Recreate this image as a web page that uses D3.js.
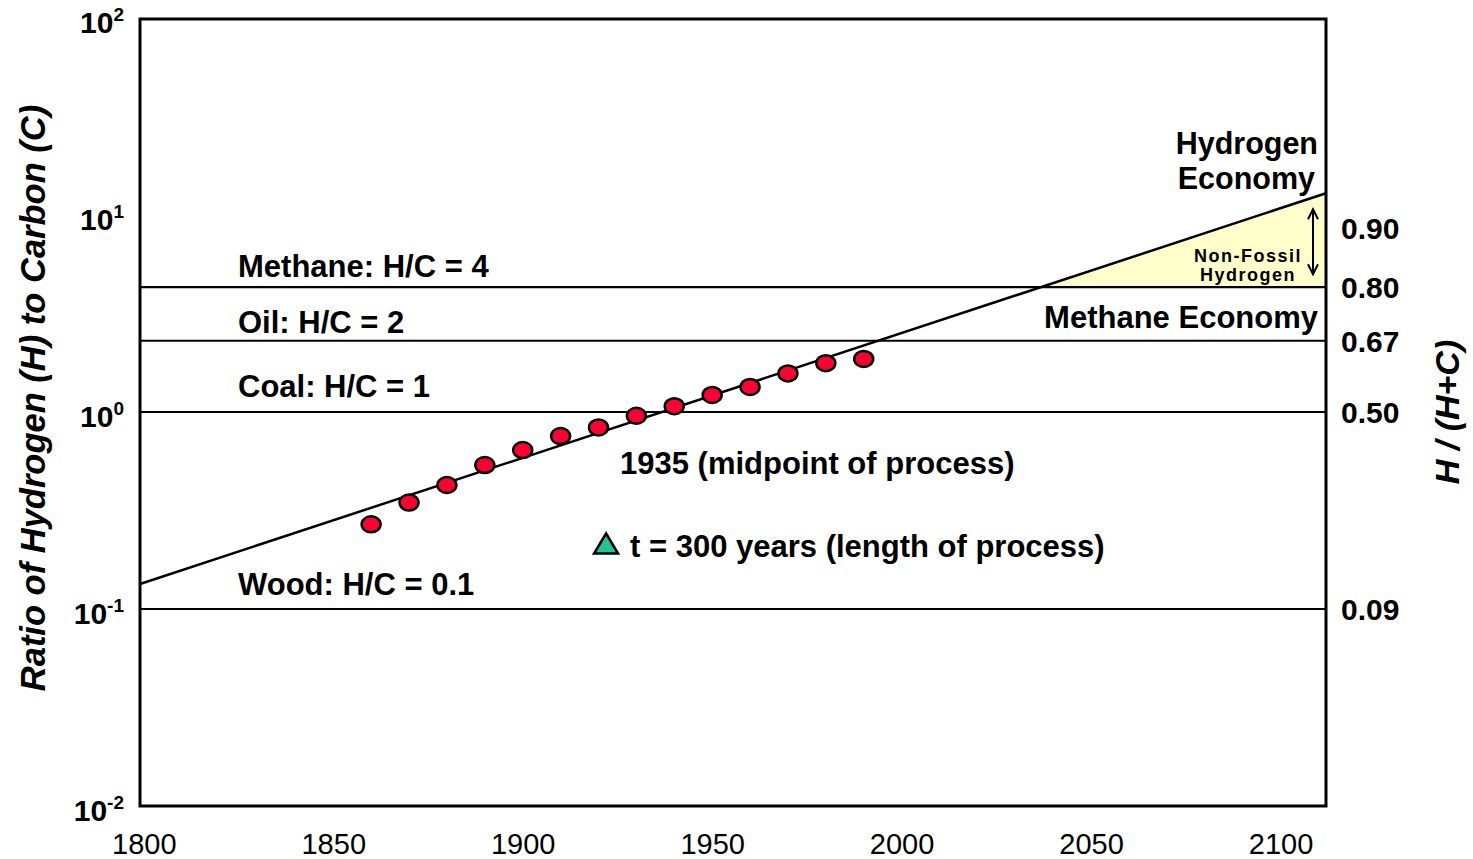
<!DOCTYPE html>
<html>
<head>
<meta charset="utf-8">
<script src="https://cdn.jsdelivr.net/npm/d3@7/dist/d3.min.js"></script>
<style>
body { margin: 0; background: #fff; }
text { font-family: "Liberation Sans", Arial, sans-serif; }
</style>
</head>
<body>
<div id="chart"></div>
<script>
// Observed ratio of hydrogen to carbon, one point per decade
const years = [1860, 1870, 1880, 1890, 1900, 1910, 1920, 1930, 1940, 1950, 1960, 1970, 1980, 1990];
const hcRatio = [0.269, 0.347, 0.426, 0.538, 0.641, 0.755, 0.835, 0.957, 1.07, 1.22, 1.34, 1.57, 1.77, 1.86];

// Trend line (straight on the log axis), read at both frame edges
const trendYears = [1799, 2112];
const trendRatio = [0.134, 12.9];

// Fuel reference lines
const fuelNames = ["Wood: H/C = 0.1", "Coal: H/C = 1", "Oil: H/C = 2", "Methane: H/C = 4"];
const fuelRatio = [0.1, 1, 2.3, 4.3];

// Axis ticks
const xTicks = [1800, 1850, 1900, 1950, 2000, 2050, 2100];
const yTicks = [0.01, 0.1, 1, 10, 100];
const yTickExp = ["-2", "-1", "0", "1", "2"];
const rightTickRatio = [8.6, 4.3, 2.3, 1, 0.1];
const rightTickLabels = ["0.90", "0.80", "0.67", "0.50", "0.09"];

// Triangle marker next to the process length note
const markerYear = 1922, markerRatio = 0.215;

const width = 1473, height = 859;
let svg = d3.select("#chart")
    .append("svg")
    .attr("width", width)
    .attr("height", height);

let x = d3.scaleLinear().domain([1799, 2112]).range([140, 1326]);
let y = d3.scaleLog().domain([0.01, 100]).range([806, 18]);

const plotLeft = x.range()[0], plotRight = x.range()[1];
const plotTop = y.range()[1], plotBottom = y.range()[0];

// Yellow wedge where the trend runs above methane
let lt0 = Math.log10(trendRatio[0]), lt1 = Math.log10(trendRatio[1]);
let methane = fuelRatio[3];
let crossYear = trendYears[0] + (trendYears[1] - trendYears[0]) *
    (Math.log10(methane) - lt0) / (lt1 - lt0);
svg.append("path")
    .attr("d", d3.line()([
        [x(crossYear), y(methane)],
        [x(trendYears[1]), y(trendRatio[1])],
        [x(trendYears[1]), y(methane)]
    ]))
    .attr("fill", "#ffffcc");

// Fuel reference lines and their labels
svg.append("g").selectAll("line")
    .data(fuelRatio)
    .enter().append("line")
    .attr("x1", plotLeft).attr("x2", plotRight)
    .attr("y1", d => y(d)).attr("y2", d => y(d))
    .attr("stroke", "#000").attr("stroke-width", 2.2);

const labelLift = [14, 15, 8, 10];
svg.append("g").selectAll("text")
    .data(fuelNames)
    .enter().append("text")
    .attr("x", plotLeft + 98)
    .attr("y", (d, i) => y(fuelRatio[i]) - labelLift[i])
    .style("font-size", "31px")
    .style("font-weight", "bold")
    .text(d => d);

// Trend line
svg.append("path")
    .datum(trendYears.map((t, i) => [t, trendRatio[i]]))
    .attr("d", d3.line().x(d => x(d[0])).y(d => y(d[1])))
    .attr("fill", "none")
    .attr("stroke", "#000")
    .attr("stroke-width", 2.5);

// Frame
svg.append("rect")
    .attr("x", plotLeft).attr("y", plotTop + 1)
    .attr("width", plotRight - plotLeft).attr("height", plotBottom - plotTop - 1)
    .attr("fill", "none")
    .attr("stroke", "#000")
    .attr("stroke-width", 3);

// Observed points
svg.append("g").selectAll("ellipse")
    .data(years)
    .enter().append("ellipse")
    .attr("cx", d => x(d))
    .attr("cy", (d, i) => y(hcRatio[i]))
    .attr("rx", 9.5).attr("ry", 8)
    .attr("fill", "#ff0033")
    .attr("stroke", "#000")
    .attr("stroke-width", 2.5);

// Bottom axis
let xAxis = svg.append("g")
    .attr("transform", `translate(0, ${plotBottom + 13})`)
    .call(d3.axisBottom(x).tickValues(xTicks).tickSize(0).tickPadding(14).tickFormat(d3.format("d")));
xAxis.select(".domain").remove();
xAxis.selectAll("text")
    .style("font-family", "'Liberation Sans', Arial, sans-serif")
    .style("font-size", "29px")
    .attr("fill", "#000");

// Left axis, powers of ten
let yAxis = svg.append("g")
    .attr("transform", `translate(${plotLeft - 16}, 0)`)
    .call(d3.axisLeft(y).tickValues(yTicks).tickSize(0).tickFormat(""));
yAxis.select(".domain").remove();
yAxis.selectAll(".tick").each(function(d, i) {
    let t = d3.select(this).append("text")
        .attr("text-anchor", "end")
        .attr("y", 14)
        .attr("fill", "#000")
        .style("font-size", "30px")
        .style("font-weight", "bold");
    t.append("tspan").text("10");
    t.append("tspan")
        .attr("dy", -12)
        .style("font-size", "19px")
        .text(yTickExp[i]);
});

// Right axis, H / (H+C)
svg.append("g").selectAll("text")
    .data(rightTickLabels)
    .enter().append("text")
    .attr("x", plotRight + 15)
    .attr("y", (d, i) => y(rightTickRatio[i]) + 11)
    .style("font-size", "30px")
    .style("font-weight", "bold")
    .text(d => d);

// Axis titles
svg.append("text")
    .attr("transform", `translate(45, 398) rotate(-90)`)
    .attr("text-anchor", "middle")
    .style("font-size", "34.5px")
    .style("font-weight", "bold")
    .style("font-style", "italic")
    .text("Ratio of Hydrogen (H) to Carbon (C)");

svg.append("text")
    .attr("transform", `translate(1459, 412) rotate(-90)`)
    .attr("text-anchor", "middle")
    .style("font-size", "34px")
    .style("font-weight", "bold")
    .style("font-style", "italic")
    .text("H / (H+C)");

// Economy labels
let econ = svg.append("g")
    .attr("text-anchor", "end")
    .style("font-size", "30.5px")
    .style("font-weight", "bold");
econ.append("text").attr("x", plotRight - 8).attr("y", 154).text("Hydrogen");
econ.append("text").attr("x", plotRight - 11).attr("y", 189).text("Economy");
econ.append("text").attr("x", plotRight - 8).attr("y", y(methane) + 41)
    .style("font-size", "31px").text("Methane Economy");

// Non-fossil hydrogen note with double arrow
let nf = svg.append("text")
    .attr("text-anchor", "middle")
    .attr("y", y(methane) - 25)
    .style("font-size", "18px")
    .style("font-weight", "bold")
    .style("letter-spacing", "1.5px");
nf.append("tspan").attr("x", 1248).text("Non-Fossil");
nf.append("tspan").attr("x", 1248).attr("dy", 19).text("Hydrogen");

let ax = plotRight - 13, ay0 = y(trendRatio[1]) + 16, ay1 = y(methane) - 13;
svg.append("path")
    .attr("d", `M${ax},${ay0}V${ay1}M${ax - 5},${ay0 + 10}L${ax},${ay0}L${ax + 5},${ay0 + 10}` +
        `M${ax - 5},${ay1 - 10}L${ax},${ay1}L${ax + 5},${ay1 - 10}`)
    .attr("fill", "none")
    .attr("stroke", "#000")
    .attr("stroke-width", 2);

// Process notes
svg.append("text")
    .attr("x", 620).attr("y", 474)
    .style("font-size", "31px")
    .style("font-weight", "bold")
    .text("1935 (midpoint of process)");

let mx = x(markerYear), my = y(markerRatio);
svg.append("path")
    .attr("d", `M${mx},${my - 10}L${mx + 12},${my + 10}L${mx - 12},${my + 10}Z`)
    .attr("fill", "#22c495")
    .attr("stroke", "#000")
    .attr("stroke-width", 2.5);

svg.append("text")
    .attr("x", 630).attr("y", 557)
    .style("font-size", "31px")
    .style("font-weight", "bold")
    .text("t = 300 years (length of process)");
</script>
</body>
</html>
